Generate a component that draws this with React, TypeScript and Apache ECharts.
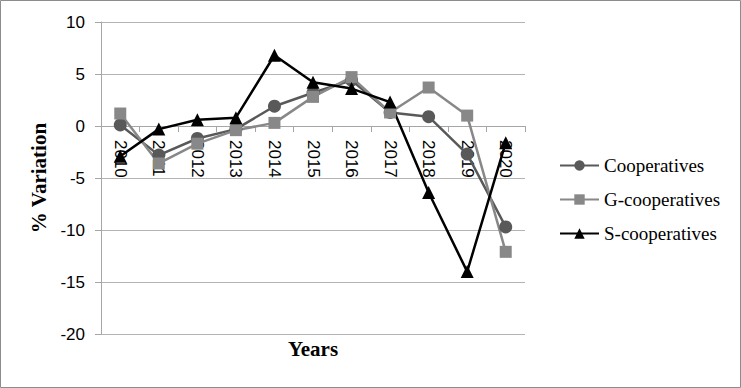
import React, { useEffect, useRef } from "react";
import * as echarts from "echarts";

const years = ["2010", "2011", "2012", "2013", "2014", "2015", "2016", "2017", "2018", "2019", "2020"];
const cooperatives = [0.1, -2.8, -1.2, -0.3, 1.9, 3.2, 4.4, 1.3, 0.9, -2.7, -9.7];
const gCooperatives = [1.2, -3.6, -1.7, -0.4, 0.3, 2.8, 4.7, 1.3, 3.7, 1.0, -12.1];
const sCooperatives = [-2.9, -0.3, 0.6, 0.8, 6.8, 4.2, 3.6, 2.3, -6.4, -14.0, -1.6];

export default function App() {
  const ref = useRef<HTMLDivElement>(null);
  useEffect(() => {
    if (!ref.current) return;
    const chart = echarts.init(ref.current, null, { renderer: "svg" });
    const mk = (name: string, data: number[], color: string, symbol: string, size: number) => ({
      name,
      type: "line",
      data,
      symbol,
      symbolSize: size,
      lineStyle: { color, width: 2.5 },
      itemStyle: { color },
      z: 3,
    });
    chart.setOption({
      animation: false,
      backgroundColor: "#fff",
      graphic: [
        {
          type: "rect",
          shape: { x: 0.5, y: 0.5, width: 740, height: 387 },
          style: { fill: "none", stroke: "#8c8c8c", lineWidth: 1 },
          z: -1,
        },
      ],
      grid: { left: 101, right: 216, top: 22, bottom: 54, containLabel: false, outerBoundsMode: "none" },
      legend: {
        orient: "vertical",
        left: 554,
        top: 151,
        itemWidth: 39,
        itemHeight: 13,
        itemGap: 15,
        textStyle: { fontFamily: "Liberation Serif", fontSize: 19, color: "#000", padding: [0, 0, 0, 0] },
        data: ["Cooperatives", "G-cooperatives", "S-cooperatives"],
      },
      xAxis: {
        type: "category",
        data: years,
        position: "bottom",
        offset: -208,
        axisLine: { onZero: false, lineStyle: { color: "#a6a6a6", width: 1 } },
        axisTick: { show: true, length: 6, lineStyle: { color: "#a6a6a6" } },
        axisLabel: {
          rotate: -90,
          margin: 14,
          fontFamily: "Liberation Sans",
          fontSize: 17,
          color: "#000",
        },
      },
      yAxis: {
        type: "value",
        min: -20,
        max: 10,
        interval: 5,
        name: "% Variation",
        nameLocation: "middle",
        nameGap: 51,
        nameTextStyle: { fontFamily: "Liberation Serif", fontWeight: "bold", fontSize: 21, color: "#000" },
        axisLine: { show: true, lineStyle: { color: "#a6a6a6", width: 1 } },
        axisTick: { show: true, length: 6, lineStyle: { color: "#a6a6a6" } },
        axisLabel: { fontFamily: "Liberation Sans", fontSize: 17, color: "#000", margin: 16 },
        splitLine: { lineStyle: { color: "#b3b3b3", width: 1 } },
      },
      title: {
        text: "Years",
        left: 313,
        top: 338,
        textAlign: "center",
        padding: 0,
        textStyle: { fontFamily: "Liberation Serif", fontWeight: "bold", fontSize: 21, color: "#000" },
      },
      series: [
        mk("Cooperatives", cooperatives, "#595959", "circle", 13),
        mk("G-cooperatives", gCooperatives, "#888888", "rect", 12),
        mk("S-cooperatives", sCooperatives, "#000000", "triangle", 13),
      ],
    });
    return () => chart.dispose();
  }, []);
  return (
    <div
      ref={ref}
      style={{ position: "fixed", left: 0, top: 0, width: 741, height: 388 }}
    />
  );
}
